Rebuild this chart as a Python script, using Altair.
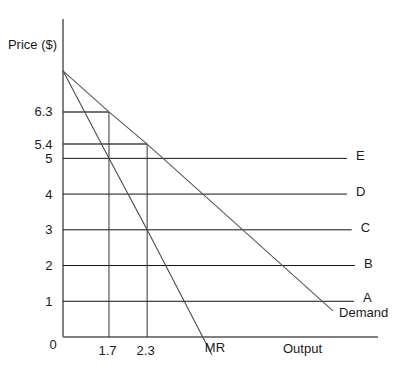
import altair as alt
import pandas as pd

# ---- values ----
price_labels = ["E", "D", "C", "B", "A"]
price_levels = [5, 4, 3, 2, 1]
price_line_ends = [4.225, 4.225, 4.26, 4.284, 4.277]

demand_q = [0, 1.7, 2.3, 4.12]
demand_p = [7.45, 6.3, 5.4, 0.73]
mr_q = [0, 1.7, 2.3, 3.06]
mr_p = [7.45, 5.0, 3.0, -0.5]

marked_q = [1.7, 2.3]
marked_p = [6.3, 5.4]

y_ticks = [1, 2, 3, 4, 5, 5.4, 6.3]
x_ticks = [1.7, 2.3]
x_max = 4.45
y_max = 8.9

FONT = "Liberation Sans"
FS = 13
TXT = "#1a1a1a"

xs = alt.Scale(type="pow", exponent=2, domain=[0, x_max], nice=False)
ys = alt.Scale(domain=[0, y_max], nice=False)

x_axis = alt.Axis(
    values=x_ticks, domain=False, ticks=False, grid=False,
    labelExpr="format(datum.value, '.1f')", labelPadding=7, labelOffset=-2,
    labelFont=FONT, labelFontSize=FS, labelColor=TXT,
    title="Output", titleX=239, titleY=11, titleAlign="center", titleBaseline="middle",
    titleFont=FONT, titleFontSize=FS, titleFontWeight="normal", titleColor=TXT,
)
y_axis = alt.Axis(
    values=y_ticks, domain=False, ticks=False, grid=False,
    labelExpr="datum.value == floor(datum.value) ? format(datum.value, 'd') : format(datum.value, '.1f')",
    labelPadding=11, labelFont=FONT, labelFontSize=FS, labelColor=TXT,
    title="Price ($)", titleAngle=0, titleX=-31, titleY=25, titleAlign="center",
    titleBaseline="middle", titleFont=FONT, titleFontSize=FS, titleFontWeight="normal",
    titleColor=TXT,
)


def X(field):
    return alt.X(field, type="quantitative", scale=xs, axis=x_axis, title="Output")


def Y(field):
    return alt.Y(field, type="quantitative", scale=ys, axis=y_axis, title="Price ($)")


axes_df = pd.DataFrame({"x": [0, 0], "x2": [0, x_max], "y": [0, 0], "y2": [y_max, 0]})
levels_df = pd.DataFrame({"label": price_labels, "p": price_levels, "end": price_line_ends, "zero": 0})
demand_df = pd.DataFrame({"q": demand_q, "p": demand_p, "order": range(len(demand_q))})
mr_df = pd.DataFrame({"q": mr_q, "p": mr_p, "order": range(len(mr_q))})
marked_df = pd.DataFrame({"q": marked_q, "p": marked_p, "zero": 0})
levels_top = levels_df[levels_df["label"] != "A"]
levels_a = levels_df[levels_df["label"] == "A"]

axis_lines = alt.Chart(axes_df).mark_rule(color="#808080", strokeWidth=2).encode(
    x=X("x"), x2="x2:Q", y=Y("y"), y2="y2:Q",
)

level_lines = alt.Chart(levels_df).mark_rule(color="#111111", strokeWidth=1).encode(
    x=X("zero"), x2="end:Q", y=Y("p"),
)
level_text = alt.Chart(levels_top).mark_text(
    align="left", baseline="middle", dx=9, dy=-2, font=FONT, fontSize=FS, color=TXT
).encode(x=X("end"), y=Y("p"), text="label:N")
level_text_a = alt.Chart(levels_a).mark_text(
    align="left", baseline="middle", dx=9, dy=-3, font=FONT, fontSize=FS, color=TXT
).encode(x=X("end"), y=Y("p"), text="label:N")

marked_h = alt.Chart(marked_df).mark_rule(color="#444444", strokeWidth=1.5).encode(
    x=X("zero"), x2="q:Q", y=Y("p"),
)
marked_v = alt.Chart(marked_df).mark_rule(color="#333333", strokeWidth=1).encode(
    x=X("q"), y=Y("zero"), y2="p:Q",
)

demand_line = alt.Chart(demand_df).mark_line(color="#5a5a5a", strokeWidth=1.1).encode(
    x=X("q"), y=Y("p"), order="order:Q",
)
mr_line = alt.Chart(mr_df).mark_line(color="#4a4a4a", strokeWidth=1.1).encode(
    x=X("q"), y=Y("p"), order="order:Q",
)

demand_text = alt.Chart(demand_df.tail(1)).mark_text(
    align="left", baseline="middle", dx=6, dy=2, font=FONT, fontSize=FS, color=TXT
).encode(x=X("q"), y=Y("p"), text=alt.value("Demand"))
mr_text = alt.Chart(mr_df.tail(1)).mark_text(
    align="center", baseline="middle", dx=3, dy=-7, font=FONT, fontSize=FS, color=TXT
).encode(x=X("q"), y=Y("p"), text=alt.value("MR"))
origin_text = alt.Chart(pd.DataFrame({"q": [0], "p": [0]})).mark_text(
    align="center", baseline="middle", dx=-10, dy=8, font=FONT, fontSize=FS, color=TXT
).encode(x=X("q"), y=Y("p"), text=alt.value("0"))

chart = alt.layer(
    axis_lines, level_lines, marked_h, marked_v, demand_line, mr_line,
    level_text, level_text_a, demand_text, mr_text, origin_text,
).properties(
    width=315, height=318,
    padding={"left": 55, "top": 11, "right": 14, "bottom": 30},
    autosize=alt.AutoSizeParams(type="none"),
    background="white",
).configure_view(stroke=None)

chart.save("out.html", embed_options={"renderer": "svg", "actions": False})
